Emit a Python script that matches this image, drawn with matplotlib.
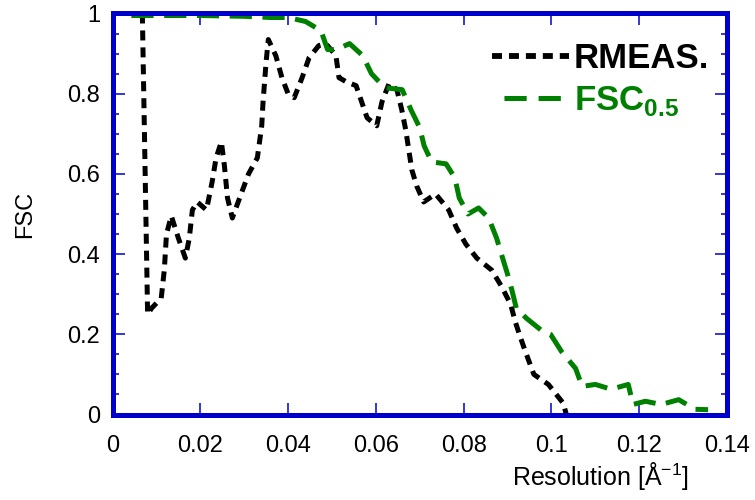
import matplotlib
matplotlib.use("Agg")
import matplotlib.pyplot as plt
from matplotlib.lines import Line2D
from matplotlib.ticker import FixedLocator, MultipleLocator

plt.rcParams['font.family'] = ['Liberation Sans', 'DejaVu Sans']
plt.rcParams['mathtext.fontset'] = 'custom'
plt.rcParams['mathtext.rm'] = 'Liberation Sans'
plt.rcParams['mathtext.bf'] = 'Liberation Sans:bold'
plt.rcParams['lines.scale_dashes'] = False

# RMEAS. curve (black, short dashes)
rmeas_x = [0.0068, 0.0080, 0.0089, 0.0111, 0.0118, 0.0123, 0.0134, 0.0150,
           0.0166, 0.0175, 0.0182, 0.0193, 0.0214, 0.0227, 0.0236, 0.0248,
           0.0255, 0.0262, 0.0273, 0.0293, 0.0310, 0.0330, 0.0340, 0.0343,
           0.0350, 0.0355, 0.0372, 0.0386, 0.0400, 0.0414, 0.0432, 0.0448,
           0.0470, 0.0486, 0.0509, 0.0516, 0.0532, 0.0555, 0.0580, 0.0602,
           0.0614, 0.0630, 0.0648, 0.0659, 0.0668, 0.0675, 0.0682, 0.0693,
           0.0709, 0.0736, 0.0766, 0.0784, 0.0805, 0.0830, 0.0864, 0.0886,
           0.0907, 0.0918, 0.0930, 0.0943, 0.0960, 0.0993, 0.1027, 0.1034]
rmeas_y = [1.0, 0.25, 0.265, 0.29, 0.36, 0.45, 0.495, 0.44,
           0.39, 0.44, 0.51, 0.53, 0.51, 0.58, 0.64, 0.68,
           0.62, 0.54, 0.49, 0.55, 0.60, 0.64, 0.72, 0.78,
           0.88, 0.935, 0.895, 0.84, 0.80, 0.79, 0.84, 0.89,
           0.92, 0.925, 0.895, 0.84, 0.83, 0.82, 0.74, 0.72,
           0.78, 0.825, 0.81, 0.76, 0.71, 0.66, 0.61, 0.57,
           0.53, 0.55, 0.51, 0.465, 0.425, 0.39, 0.36, 0.32,
           0.275, 0.23, 0.19, 0.15, 0.10, 0.075, 0.028, 0.0]

# FSC 0.5 curve (green, long dashes)
fsc_x = [0.0043, 0.010, 0.020, 0.030, 0.036, 0.040, 0.0440, 0.0475, 0.049,
         0.051, 0.054, 0.057, 0.059, 0.062, 0.066, 0.068, 0.070, 0.071,
         0.0727, 0.076, 0.078, 0.079, 0.081, 0.0834, 0.0857, 0.0875, 0.0886,
         0.090, 0.091, 0.092, 0.0943, 0.0977, 0.0998, 0.1023, 0.1055, 0.107,
         0.110, 0.1136, 0.1175, 0.1186, 0.1214, 0.125, 0.129, 0.1327, 0.1357]
fsc_y = [0.995, 0.995, 0.995, 0.993, 0.99, 0.99, 0.98, 0.957, 0.91,
         0.91, 0.925, 0.895, 0.85, 0.815, 0.81, 0.76, 0.715, 0.67,
         0.63, 0.625, 0.59, 0.54, 0.50, 0.515, 0.49, 0.44, 0.40,
         0.35, 0.31, 0.265, 0.24, 0.21, 0.20, 0.157, 0.115, 0.07,
         0.075, 0.063, 0.075, 0.025, 0.033, 0.025, 0.037, 0.013, 0.012]

x_ticks = [0, 0.02, 0.04, 0.06, 0.08, 0.1, 0.12, 0.14]
x_labels = ['0', '0.02', '0.04', '0.06', '0.08', '0.1', '0.12', '0.14']
y_ticks = [0, 0.2, 0.4, 0.6, 0.8, 1]
y_labels = ['0', '0.2', '0.4', '0.6', '0.8', '1']

blue = '#0000cc'
green = '#008000'

fig = plt.figure(figsize=(7.55, 5.0), dpi=100)
ax = fig.add_axes([112.5 / 755, 1 - 414.5 / 500, (727 - 112.5) / 755, (414.5 - 13.5) / 500])

ax.plot(rmeas_x, rmeas_y, color='black', lw=3.6, dashes=(7.2, 5.0))
ax.plot(fsc_x, fsc_y, color=green, lw=3.6, dashes=(16, 7.6))

ax.set_xlim(0, 0.14)
ax.set_ylim(0, 1)

for s in ax.spines.values():
    s.set_color(blue)
    s.set_linewidth(3.6)

ax.xaxis.set_major_locator(FixedLocator(x_ticks))
ax.set_xticklabels(x_labels)
ax.yaxis.set_major_locator(FixedLocator(y_ticks))
ax.set_yticklabels(y_labels)
ax.yaxis.set_minor_locator(MultipleLocator(0.05))
ax.tick_params(which='both', direction='in', color=blue, width=1.1,
               top=True, right=True, labelsize=17)
ax.tick_params(which='major', length=8.5)
ax.tick_params(which='minor', length=4.3)
ax.tick_params(axis='x', pad=15)
ax.tick_params(axis='y', pad=9)

ax.set_ylabel('FSC', fontsize=17, labelpad=22)
fig.text(600 / 755, 1 - 476 / 500, r'Resolution [$\mathrm{\AA}^{-1}$]',
         fontsize=18, ha='center', va='center')

# legend handles: green one starts with a gap, like the reference
h1 = Line2D([], [], color='black', lw=4.2, dashes=(7.2, 5.0))
h2 = Line2D([], [], color=green, lw=3.6, linestyle=(16, (16, 8.6)))
leg = ax.legend([h1, h2], ['RMEAS.', r'FSC$_{\mathbf{0.5}}$'],
                loc='upper right', bbox_to_anchor=(1.005, 0.98), frameon=False,
                prop={'weight': 'bold', 'size': 25},
                handlelength=2.2, handletextpad=0.15, labelspacing=0.25,
                borderaxespad=0.3, borderpad=0.3)
leg.get_texts()[0].set_color('black')
leg.get_texts()[1].set_color(green)

fig.savefig('out.png', dpi=100)
